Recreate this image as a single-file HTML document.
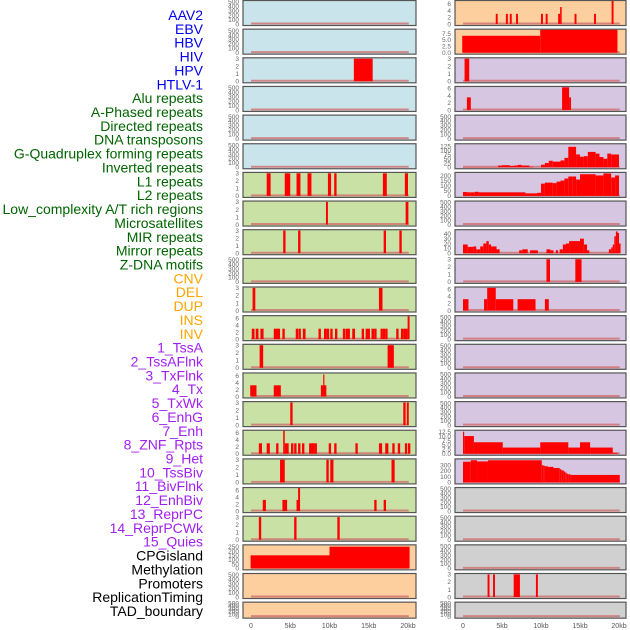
<!DOCTYPE html>
<html><head><meta charset="utf-8">
<style>
html,body{margin:0;padding:0;background:#fff;}
svg{display:block;font-family:"Liberation Sans",sans-serif;}
</style></head>
<body>
<svg id="chart" width="630" height="630" viewBox="0 0 630 630"></svg>
<script>
const trackLabels = ["AAV2","EBV","HBV","HIV","HPV","HTLV-1","Alu repeats","A-Phased repeats","Directed repeats","DNA transposons","G-Quadruplex forming repeats","Inverted repeats","L1 repeats","L2 repeats","Low_complexity A/T rich regions","Microsatellites","MIR repeats","Mirror repeats","Z-DNA motifs","CNV","DEL","DUP","INS","INV","1_TssA","2_TssAFlnk","3_TxFlnk","4_Tx","5_TxWk","6_EnhG","7_Enh","8_ZNF_Rpts","9_Het","10_TssBiv","11_BivFlnk","12_EnhBiv","13_ReprPC","14_ReprPCWk","15_Quies","CPGisland","Methylation","Promoters","ReplicationTiming","TAD_boundary"];
const labelGroups = ["v","v","v","v","v","v","r","r","r","r","r","r","r","r","r","r","r","r","r","s","s","s","s","s","c","c","c","c","c","c","c","c","c","c","c","c","c","c","c","o","o","o","o","o"];
const xTickLabels = ["0","5kb","10kb","15kb","20kb"];
const xTickValues = [0,5,10,15,20];

const T500 = ["0","100","200","300","400","500"];
const T3 = ["0","1","2","3"];
const T6 = ["0","2","4","6"];

const leftBg = ["b","b","b","b","b","b","g","g","g","g","g","g","g","g","g","g","g","g","g","o","o","o"];
const rightBg = ["o","o","p","p","p","p","p","p","p","p","p","p","p","p","p","p","p","k","k","k","k","k"];
const leftTicks = [T500,T500,T3,T500,T500,T500,T3,T3,T3,T500,T3,T6,T3,T6,T3,T6,T3,T6,T3,["0","50","100","150","200","250"],T500,T500];
const leftMax = [520,520,3.05,520,520,520,3.05,3.05,3.05,520,3.05,6.6,3.05,6.6,3.05,6.6,3.05,6.6,3.05,265,520,520];
const rightTicks = [T6,["0.0","2.5","5.0","7.5"],T3,T6,T500,["0","25","50","75","100","125"],["0","50","100","150","200"],T500,["0","10","20","30","40"],T3,T6,T500,T500,T500,T500,["0.0","2.5","5.0","7.5","10.0","12.5"],["0","100","200","300"],T500,T500,T500,T3,T500];
const rightMax = [6.8,9,3.05,6.4,520,135,225,520,47.5,3.05,6.5,520,520,520,520,13,400,520,520,520,3.05,520];

const leftSegs = [
 [],[],
 [[13.1,15.5,3]],
 [],[],[],
 [[2.0,2.5,3],[4.3,5.0,3],[5.8,6.3,3],[7.2,7.7,3],[9.8,10.2,3],[10.6,10.9,3],[16.8,17.3,3],[19.6,20.0,3]],
 [[9.55,9.8,3],[19.7,20.05,3]],
 [[4.1,4.4,3],[6.0,6.3,3],[16.9,17.2,3],[18.9,19.2,3]],
 [],
 [[0.2,0.55,3],[16.3,16.75,3]],
 [[0.1,0.45,3],[0.6,0.95,3],[1.2,1.6,3],[2.9,3.2,3],[3.15,3.45,3],[3.4,3.7,3],[4.0,4.3,3],[5.7,6.0,3],[6.05,6.35,3],[6.6,6.95,3],[8.6,8.9,3],[9.3,9.65,3],[9.65,9.95,3],[10.1,10.4,3],[10.7,11.0,3],[11.7,12.0,3],[12.05,12.35,3],[12.3,12.6,3],[12.9,13.25,3],[14.1,14.4,3],[14.6,14.9,3],[14.85,15.15,3],[15.35,15.7,3],[15.7,16.0,3],[16.5,16.8,3],[16.8,17.1,3],[17.1,17.4,3],[18.5,18.8,3],[19.1,19.4,3],[19.4,19.7,3],[19.65,19.95,3],[19.95,20.2,6.6]],
 [[1.1,1.55,3],[17.4,18.2,3]],
 [[-0.1,0.7,3.2],[2.9,3.8,3.2],[8.9,9.6,3.2],[9.2,9.35,6.3]],
 [[5.0,5.3,3],[19.4,19.7,3],[19.85,20.1,3]],
 [[1.0,1.4,3],[2.0,2.4,3],[3.2,3.5,3],[4.1,4.3,6.6],[4.3,4.8,3],[5.1,5.4,3],[5.5,5.8,3],[6.0,6.3,3],[6.5,6.8,3],[7.4,7.9,3],[7.8,8.1,3],[8.1,8.4,3],[9.9,10.2,3],[10.6,10.9,3],[13.3,13.6,3],[16.3,16.7,3],[17.1,17.5,3],[18.0,18.3,3],[18.7,19.0,3],[19.6,19.9,3],[20.0,20.3,3]],
 [[3.7,4.3,3],[9.6,9.9,3],[10.1,10.5,3],[17.9,18.3,3]],
 [[1.5,1.9,3.2],[4.0,4.6,3.2],[5.8,6.2,3.2],[6.0,6.25,6.6],[15.7,16.0,3.2],[16.9,17.2,3.2]],
 [[1.0,1.3,3],[5.5,5.8,3],[11.0,11.3,3]],
 [[-0.05,10,150],[10,20.2,250]],
 [],[]
];
const rightSegs = [
 [[4.2,4.45,3],[5.5,5.75,3],[6.0,6.25,3],[6.8,7.05,3],[10.0,10.25,3],[10.6,10.85,3],[12.2,12.45,3],[12.45,12.65,5],[14.3,14.55,3],[16.8,17.05,3],[19.05,19.3,7]],
 [[-0.1,9.9,6.6],[9.9,19.8,9]],
 [[0.2,0.8,3]],
 [[0.5,1.0,3.5],[12.7,13.6,6.3],[13.6,13.85,3.5]],
 [],
 [[0,4.5,1],[4.5,5,10],[5,6,12],[6,6.5,8],[6.5,7,10],[7,7.5,14],[7.5,8.5,10],[8.5,9,3],[9,10,0],[10,10.5,15],[10.5,11,25],[11,11.5,38],[11.5,12.5,33],[12.5,13,40],[13,13.5,55],[13.5,14.5,120],[14.5,15,75],[15,15.5,62],[15.5,16,65],[16,17,90],[17,17.5,80],[17.5,18,60],[18,18.5,50],[18.5,19,80],[19,20,75]],
 [[0,0.5,38],[0.5,1,35],[1,1.5,35],[1.5,2,40],[2,8,35],[8,9.5,25],[9.5,10,30],[10,10.5,120],[10.5,11.5,130],[11.5,12,125],[12,12.5,140],[12.5,13,150],[13,13.5,170],[13.5,14,190],[14,14.5,190],[14.5,15,160],[15,17,212],[17,18,200],[18,19,220],[19,19.5,180],[19.5,20,200]],
 [],
 [[0,0.6,18],[0.6,1.3,13],[1.3,1.7,14],[1.7,2.2,8],[2.2,2.6,14],[2.6,3,20],[3,3.3,25],[3.3,3.6,18],[3.6,4.3,14],[4.3,4.7,8],[7.2,7.6,6],[7.6,8.3,8],[8.6,9.6,6],[10.7,11.2,8],[11.2,11.6,6],[11.9,12.2,6],[12.4,12.8,8],[12.8,13.2,18],[13.2,13.6,20],[13.6,15,25],[15,15.5,30],[15.5,15.9,18],[15.9,16.2,6],[18.7,19,8],[19,19.2,12],[19.2,19.4,18],[19.4,19.6,35],[19.6,19.8,45],[19.8,20,42],[20,20.2,20]],
 [[10.7,11.15,3],[14.4,15.2,3]],
 [[0,0.7,3.2],[2.7,3.1,3.2],[3.1,4.2,6.4],[4.2,6.45,3.2],[7,9.3,3.2],[10.5,11.0,3.2]],
 [],[],[],[],
 [[0,0.15,12.5],[0.15,1.4,10],[1.4,5.1,6.5],[5.1,9.9,3.5],[9.9,13.5,6.5],[13.5,15,3.5],[15,16.3,6.5],[16.3,19.2,3.5],[19.2,19.8,0.5]],
 [[0,1,360],[1,1.8,385],[1.8,3.2,365],[3.2,10.1,385],[10.1,10.3,300],[10.3,10.5,290],[10.5,10.9,280],[10.9,11.6,270],[11.6,12.4,250],[12.4,12.6,230],[12.6,12.9,210],[12.9,13.1,190],[13.1,13.3,170],[13.3,13.5,150],[13.5,13.8,140],[13.8,20.1,130]],
 [],[],[],
 [[3.15,3.4,3],[3.85,4.1,3],[6.5,7.3,3],[9.35,9.6,3]],
 []
];

const NS = "http://www.w3.org/2000/svg";
const svg = document.getElementById("chart");
const bgColor = {b:"#c9e4eb",g:"#c9e1a5",o:"#fdcf9e",p:"#d6c6e1",k:"#d0d0d0"};
const labelColor = {v:"#0000ee",r:"#006400",s:"#ffa500",c:"#a020f0",o:"#000000"};
function mk(tag, attrs, parent){const e=document.createElementNS(NS,tag);for(const k in attrs)e.setAttribute(k,attrs[k]);(parent||svg).appendChild(e);return e;}

// labels
trackLabels.forEach((t,k)=>{
  const e = mk("text",{x:203,y:15+k*13.86+5,"text-anchor":"end","font-size":14,fill:labelColor[labelGroups[k]]});
  e.textContent=t;
  
  
});

function panel(col, i, bg, ticks, ymax, segs){
  const top = 0.5 + i*28.65;
  const h = i===21 ? 16 : 25;
  const px = col===0 ? 243 : 455;
  const pw = col===0 ? 173 : 171;
  const x0 = col===0 ? 251 : 463;
  const kbScale = col===0 ? 7.85 : 7.8;
  const xs = kb => x0 + kb*kbScale;
  const bottom = top + h - 1.5;
  const ys = v => bottom - v/ymax*(h-2);
  const g = mk("g",{});
  
  
  mk("rect",{x:px,y:top,width:pw,height:h,fill:bgColor[bg]},g);
  mk("line",{x1:xs(0),x2:xs(20.1),y1:bottom-0.5,y2:bottom-0.5,stroke:"#d07070","stroke-width":2,opacity:0.8},g);
  segs.forEach(s=>{
    const r = mk("rect",{x:xs(s[0]),y:ys(s[2]),width:Math.max(1,xs(s[1])-xs(s[0])),height:Math.max(0,bottom-ys(s[2])),fill:"#ff0000"},g);
    
    
  });
  mk("rect",{x:px,y:top,width:pw,height:h,fill:"none",stroke:"#555","stroke-width":1.2},g);
  ticks.forEach(t=>{
    const e = mk("text",{x:px-4,y:ys(parseFloat(t))+2.3,"text-anchor":"end","font-size":6.5,fill:"#666"},g);
    e.textContent=t;
    
    
  });
}
for(let i=0;i<22;i++){
  panel(0,i,leftBg[i],leftTicks[i],leftMax[i],leftSegs[i]);
  panel(1,i,rightBg[i],rightTicks[i],rightMax[i],rightSegs[i]);
}
[[251,7.85],[463,7.8]].forEach(([x0,sc])=>{
  xTickValues.forEach((v,j)=>{
    const e = mk("text",{x:x0+v*sc,y:628,"text-anchor":"middle","font-size":7,fill:"#555"});
    e.textContent=xTickLabels[j];
    
    
  });
});
</script>
</body></html>
